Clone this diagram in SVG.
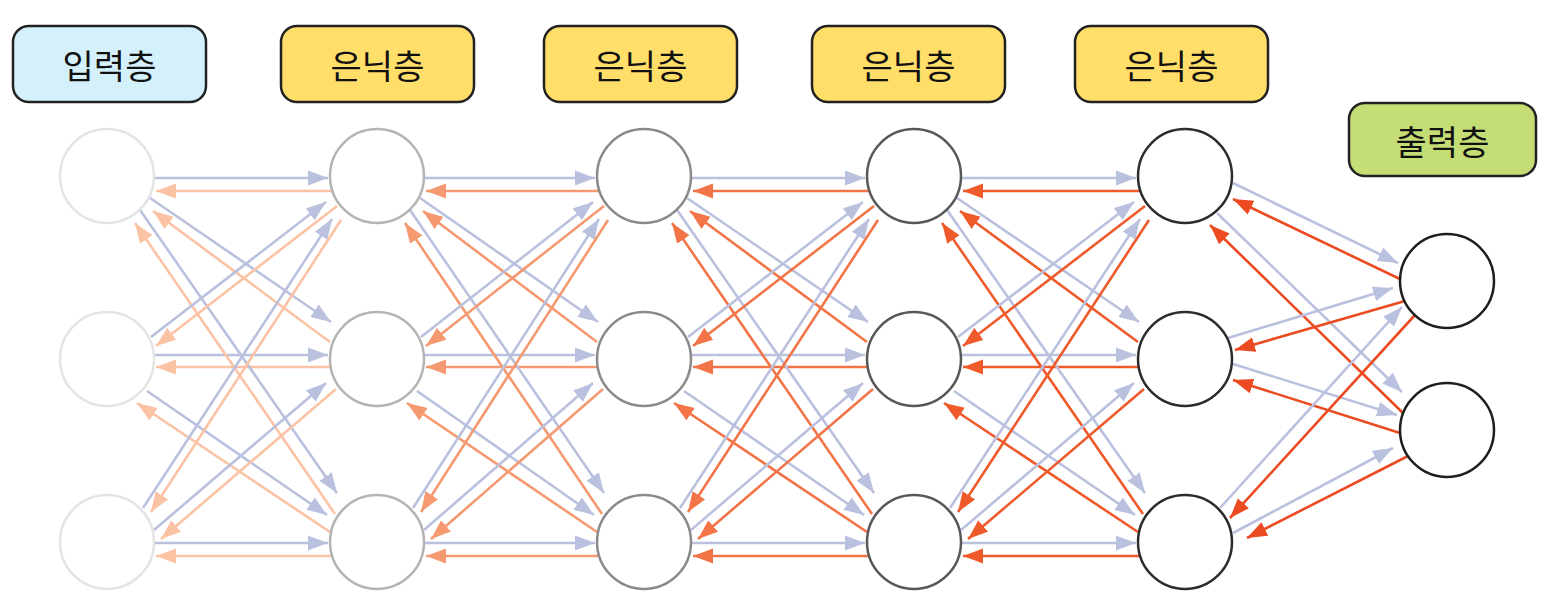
<svg xmlns="http://www.w3.org/2000/svg" width="1549" height="600" viewBox="0 0 1549 600">
<defs>
<marker id="mb" markerUnits="userSpaceOnUse" markerWidth="22" markerHeight="16" refX="20" refY="8" orient="auto"><path d="M0,0.5 L20,8 L0,15.5 Z" fill="#BAC1DE"/></marker>
<marker id="m1" markerUnits="userSpaceOnUse" markerWidth="22" markerHeight="16" refX="20" refY="8" orient="auto"><path d="M0,0.5 L20,8 L0,15.5 Z" fill="#FBC2A3"/></marker>
<marker id="m2" markerUnits="userSpaceOnUse" markerWidth="22" markerHeight="16" refX="20" refY="8" orient="auto"><path d="M0,0.5 L20,8 L0,15.5 Z" fill="#F59A70"/></marker>
<marker id="m3" markerUnits="userSpaceOnUse" markerWidth="22" markerHeight="16" refX="20" refY="8" orient="auto"><path d="M0,0.5 L20,8 L0,15.5 Z" fill="#F27447"/></marker>
<marker id="m4" markerUnits="userSpaceOnUse" markerWidth="22" markerHeight="16" refX="20" refY="8" orient="auto"><path d="M0,0.5 L20,8 L0,15.5 Z" fill="#EF5A2B"/></marker>
<marker id="m5" markerUnits="userSpaceOnUse" markerWidth="22" markerHeight="16" refX="20" refY="8" orient="auto"><path d="M0,0.5 L20,8 L0,15.5 Z" fill="#EC4B22"/></marker>
</defs>
<style>
line{fill:none;stroke-width:2.6}
.b{stroke:#BAC1DE;marker-end:url(#mb)}
.o1{stroke:#FBC2A3;marker-end:url(#m1)}
.o2{stroke:#F59A70;marker-end:url(#m2)}
.o3{stroke:#F27447;marker-end:url(#m3)}
.o4{stroke:#EF5A2B;marker-end:url(#m4)}
.o5{stroke:#EC4B22;marker-end:url(#m5)}
.n{fill:#FFFFFF;stroke-width:2.5}
.lb{stroke:#222222;stroke-width:2.5}
.t{font-family:"Noto Sans CJK KR","Noto Sans CJK SC",sans-serif;font-size:34px;font-weight:400;fill:#111111;text-anchor:middle;dominant-baseline:central}
</style>
<rect width="1549" height="600" fill="#FFFFFF"/>
<g id="connectors">
<!-- T1 -->
<line class="b" x1="154" y1="178" x2="328" y2="178"/><line class="o1" x1="332" y1="191" x2="156" y2="191"/>
<line class="b" x1="154" y1="355" x2="328" y2="355"/><line class="o1" x1="331" y1="367" x2="156" y2="367"/>
<line class="b" x1="154" y1="543" x2="328" y2="543"/><line class="o1" x1="332" y1="556" x2="156" y2="556"/>
<line class="b" x1="150" y1="198" x2="331" y2="322"/><line class="o1" x1="330" y1="342" x2="153" y2="211"/>
<line class="b" x1="147" y1="391" x2="327" y2="515"/><line class="o1" x1="330" y1="532" x2="137" y2="403"/>
<line class="b" x1="140" y1="210" x2="337" y2="493"/><line class="o1" x1="335" y1="514" x2="135" y2="223"/>
<line class="b" x1="151" y1="337" x2="326" y2="202"/><line class="o1" x1="337" y1="206" x2="156" y2="346"/>
<line class="b" x1="154" y1="530" x2="326" y2="383"/><line class="o1" x1="336" y1="389" x2="161" y2="539"/>
<line class="b" x1="143" y1="508" x2="332" y2="219"/><line class="o1" x1="341" y1="220" x2="151" y2="512"/>
<!-- T2 -->
<line class="b" x1="424" y1="178" x2="595" y2="178"/><line class="o2" x1="599" y1="191" x2="426" y2="191"/>
<line class="b" x1="424" y1="355" x2="595" y2="355"/><line class="o2" x1="598" y1="367" x2="426" y2="367"/>
<line class="b" x1="424" y1="543" x2="595" y2="543"/><line class="o2" x1="599" y1="556" x2="426" y2="556"/>
<line class="b" x1="420" y1="198" x2="598" y2="322"/><line class="o2" x1="597" y1="342" x2="423" y2="211"/>
<line class="b" x1="417" y1="391" x2="594" y2="515"/><line class="o2" x1="597" y1="532" x2="407" y2="403"/>
<line class="b" x1="410" y1="210" x2="604" y2="493"/><line class="o2" x1="602" y1="514" x2="405" y2="223"/>
<line class="b" x1="421" y1="337" x2="593" y2="202"/><line class="o2" x1="604" y1="206" x2="426" y2="346"/>
<line class="b" x1="424" y1="530" x2="593" y2="383"/><line class="o2" x1="603" y1="389" x2="431" y2="539"/>
<line class="b" x1="413" y1="508" x2="599" y2="219"/><line class="o2" x1="608" y1="220" x2="421" y2="512"/>
<!-- T3 -->
<line class="b" x1="691" y1="178" x2="865" y2="178"/><line class="o3" x1="869" y1="191" x2="693" y2="191"/>
<line class="b" x1="691" y1="355" x2="865" y2="355"/><line class="o3" x1="868" y1="367" x2="693" y2="367"/>
<line class="b" x1="691" y1="543" x2="865" y2="543"/><line class="o3" x1="869" y1="556" x2="693" y2="556"/>
<line class="b" x1="687" y1="198" x2="868" y2="322"/><line class="o3" x1="867" y1="342" x2="690" y2="211"/>
<line class="b" x1="684" y1="391" x2="864" y2="515"/><line class="o3" x1="867" y1="532" x2="674" y2="403"/>
<line class="b" x1="677" y1="210" x2="874" y2="493"/><line class="o3" x1="872" y1="514" x2="672" y2="223"/>
<line class="b" x1="688" y1="337" x2="863" y2="202"/><line class="o3" x1="874" y1="206" x2="693" y2="346"/>
<line class="b" x1="691" y1="530" x2="863" y2="383"/><line class="o3" x1="873" y1="389" x2="698" y2="539"/>
<line class="b" x1="680" y1="508" x2="869" y2="219"/><line class="o3" x1="878" y1="220" x2="688" y2="512"/>
<!-- T4 -->
<line class="b" x1="961" y1="178" x2="1136" y2="178"/><line class="o4" x1="1140" y1="191" x2="963" y2="191"/>
<line class="b" x1="961" y1="355" x2="1136" y2="355"/><line class="o4" x1="1139" y1="367" x2="963" y2="367"/>
<line class="b" x1="961" y1="543" x2="1136" y2="543"/><line class="o4" x1="1140" y1="556" x2="963" y2="556"/>
<line class="b" x1="957" y1="198" x2="1139" y2="322"/><line class="o4" x1="1138" y1="342" x2="960" y2="211"/>
<line class="b" x1="954" y1="391" x2="1135" y2="515"/><line class="o4" x1="1138" y1="532" x2="944" y2="403"/>
<line class="b" x1="947" y1="210" x2="1145" y2="493"/><line class="o4" x1="1143" y1="514" x2="942" y2="223"/>
<line class="b" x1="958" y1="337" x2="1134" y2="202"/><line class="o4" x1="1145" y1="206" x2="963" y2="346"/>
<line class="b" x1="961" y1="530" x2="1134" y2="383"/><line class="o4" x1="1144" y1="389" x2="968" y2="539"/>
<line class="b" x1="950" y1="508" x2="1140" y2="219"/><line class="o4" x1="1149" y1="220" x2="958" y2="512"/>
<!-- T5 -->
<line class="b" x1="1233" y1="183" x2="1398" y2="263"/><line class="o5" x1="1402" y1="280" x2="1233" y2="199"/>
<line class="b" x1="1217" y1="213" x2="1402" y2="392"/><line class="o5" x1="1403" y1="413" x2="1210" y2="225"/>
<line class="b" x1="1228" y1="338" x2="1393" y2="288"/><line class="o5" x1="1405" y1="301" x2="1235" y2="350"/>
<line class="b" x1="1233" y1="364" x2="1397" y2="415"/><line class="o5" x1="1400" y1="433" x2="1233" y2="380"/>
<line class="b" x1="1220" y1="508" x2="1402" y2="307"/><line class="o5" x1="1415" y1="315" x2="1230" y2="518"/>
<line class="b" x1="1233" y1="533" x2="1393" y2="448"/><line class="o5" x1="1410" y1="455" x2="1247" y2="538"/>
</g>
<g id="label-input"><rect class="lb" x="13" y="26" width="193" height="76" rx="16" fill="#D4F0FB"/><text class="t" x="109.5" y="64">입력층</text></g>
<g id="label-hidden1"><rect class="lb" x="281" y="26" width="193" height="76" rx="16" fill="#FFDE6A"/><text class="t" x="377.5" y="64">은닉층</text></g>
<g id="label-hidden2"><rect class="lb" x="544" y="26" width="193" height="76" rx="16" fill="#FFDE6A"/><text class="t" x="640.5" y="64">은닉층</text></g>
<g id="label-hidden3"><rect class="lb" x="812" y="26" width="193" height="76" rx="16" fill="#FFDE6A"/><text class="t" x="908.5" y="64">은닉층</text></g>
<g id="label-hidden4"><rect class="lb" x="1075" y="26" width="193" height="76" rx="16" fill="#FFDE6A"/><text class="t" x="1171.5" y="64">은닉층</text></g>
<g id="label-output"><rect class="lb" x="1349" y="103" width="187" height="73" rx="16" fill="#C4DD74"/><text class="t" x="1442.5" y="140">출력층</text></g>
<g id="in1"><circle class="n" cx="107" cy="176" r="47" stroke="#E4E4E4"/></g>
<g id="in2"><circle class="n" cx="107" cy="359" r="47" stroke="#E4E4E4"/></g>
<g id="in3"><circle class="n" cx="107" cy="542" r="47" stroke="#E4E4E4"/></g>
<g id="h1a"><circle class="n" cx="377" cy="176" r="47" stroke="#B4B4B4"/></g>
<g id="h1b"><circle class="n" cx="377" cy="359" r="47" stroke="#B4B4B4"/></g>
<g id="h1c"><circle class="n" cx="377" cy="542" r="47" stroke="#B4B4B4"/></g>
<g id="h2a"><circle class="n" cx="644" cy="176" r="47" stroke="#8A8A8A"/></g>
<g id="h2b"><circle class="n" cx="644" cy="359" r="47" stroke="#8A8A8A"/></g>
<g id="h2c"><circle class="n" cx="644" cy="542" r="47" stroke="#8A8A8A"/></g>
<g id="h3a"><circle class="n" cx="914" cy="176" r="47" stroke="#585858"/></g>
<g id="h3b"><circle class="n" cx="914" cy="359" r="47" stroke="#585858"/></g>
<g id="h3c"><circle class="n" cx="914" cy="542" r="47" stroke="#585858"/></g>
<g id="h4a"><circle class="n" cx="1185" cy="176" r="47" stroke="#2C2C2C"/></g>
<g id="h4b"><circle class="n" cx="1185" cy="359" r="47" stroke="#2C2C2C"/></g>
<g id="h4c"><circle class="n" cx="1185" cy="542" r="47" stroke="#2C2C2C"/></g>
<g id="out1"><circle class="n" cx="1447" cy="281" r="47" stroke="#1E1E1E"/></g>
<g id="out2"><circle class="n" cx="1447" cy="430" r="47" stroke="#1E1E1E"/></g>
</svg>
